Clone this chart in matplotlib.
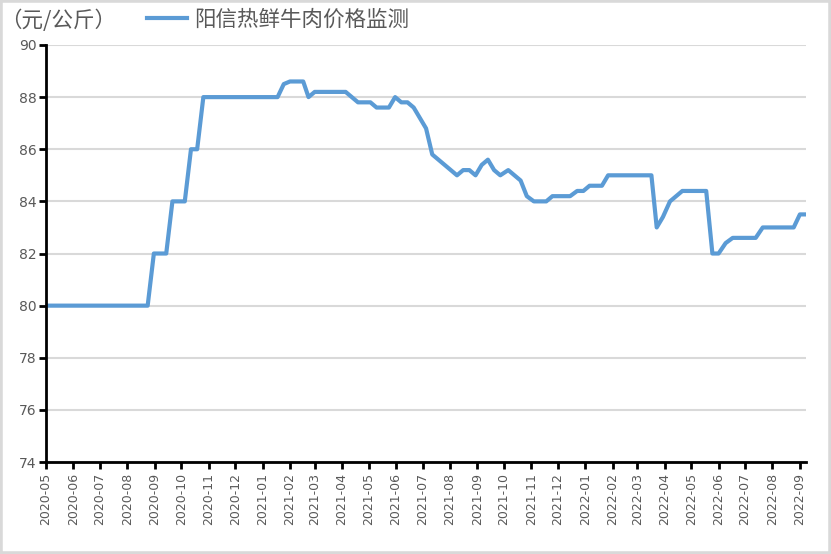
import pandas as pd
import matplotlib
matplotlib.use('Agg')
import matplotlib.pyplot as plt
import matplotlib.dates as mdates
from matplotlib.patches import Rectangle

plt.rcParams['font.family'] = ['Noto Sans CJK SC', 'DejaVu Sans']

# price points (date, yuan/kg)
dates = ['2020-05-01', '2020-08-24', '2020-08-31', '2020-09-14', '2020-09-21',
         '2020-10-05', '2020-10-12', '2020-10-19', '2020-10-26', '2021-01-18',
         '2021-01-25', '2021-02-01', '2021-02-16', '2021-02-22', '2021-03-01',
         '2021-04-05', '2021-04-19', '2021-05-03', '2021-05-10', '2021-05-24',
         '2021-05-31', '2021-06-07', '2021-06-14', '2021-06-21', '2021-07-05',
         '2021-07-12', '2021-08-09', '2021-08-16', '2021-08-23', '2021-08-30',
         '2021-09-06', '2021-09-13', '2021-09-20', '2021-09-27', '2021-10-06',
         '2021-10-20', '2021-10-27', '2021-11-04', '2021-11-18', '2021-11-25',
         '2021-12-15', '2021-12-23', '2021-12-30', '2022-01-06', '2022-01-20',
         '2022-01-27', '2022-03-17', '2022-03-23', '2022-03-30', '2022-04-07',
         '2022-04-21', '2022-05-18', '2022-05-25', '2022-06-01', '2022-06-09',
         '2022-06-17', '2022-07-13', '2022-07-21', '2022-08-25', '2022-09-01',
         '2022-09-08']
prices = [80.0, 80.0, 82.0, 82.0, 84.0,
          84.0, 86.0, 86.0, 88.0, 88.0,
          88.5, 88.6, 88.6, 88.0, 88.2,
          88.2, 87.8, 87.8, 87.6, 87.6,
          88.0, 87.8, 87.8, 87.6, 86.8,
          85.8, 85.0, 85.2, 85.2, 85.0,
          85.4, 85.6, 85.2, 85.0, 85.2,
          84.8, 84.2, 84.0, 84.0, 84.2,
          84.2, 84.4, 84.4, 84.6, 84.6,
          85.0, 85.0, 83.0, 83.4, 84.0,
          84.4, 84.4, 82.0, 82.0, 82.4,
          82.6, 82.6, 83.0, 83.0, 83.5,
          83.5]
series_name = '阳信热鲜牛肉价格监测'
unit_label = '（元/公斤）'
y_ticks = [74, 76, 78, 80, 82, 84, 86, 88, 90]

blue = '#5B9BD5'
gray_text = '#595959'

fig = plt.figure(figsize=(8.31, 5.54), dpi=100)
ax = fig.add_axes([0.0554, 0.166, 0.9146, 0.7528])

x = pd.to_datetime(dates)
ax.plot(x, prices, color=blue, lw=3, solid_joinstyle='round', label=series_name)

ax.set_ylim(74, 90)
ax.set_yticks(y_ticks)
ax.set_xlim(pd.Timestamp('2020-05-01'), pd.Timestamp('2022-09-08'))
ax.xaxis.set_major_locator(mdates.MonthLocator())
ax.xaxis.set_major_formatter(mdates.DateFormatter('%Y-%m'))

ax.grid(axis='y', color='#d9d9d9', lw=1.5)
ax.set_axisbelow(True)
for s in ['top', 'right']:
    ax.spines[s].set_visible(False)
for s in ['left', 'bottom']:
    ax.spines[s].set_linewidth(2)
    ax.spines[s].set_color('black')

ax.tick_params(axis='both', direction='out', length=5, width=2, color='black',
               labelcolor=gray_text)
ax.tick_params(axis='y', labelsize=10, pad=2)
ax.tick_params(axis='x', labelsize=9, labelrotation=90, pad=3)
for lab in ax.get_yticklabels() + ax.get_xticklabels():
    lab.set_family('DejaVu Sans')

leg = ax.legend(loc='lower left', bbox_to_anchor=(0.115, 1.0), frameon=False,
                prop={'size': 15.5, 'weight': 'light'}, handlelength=1.85,
                handletextpad=0.3, borderaxespad=0.25, labelcolor=gray_text)
fig.text(0.0, 0.963, unit_label, fontsize=15.5, fontweight='light',
         color=gray_text, va='center')

fig.patches.append(Rectangle((0, 0), 1, 1, transform=fig.transFigure, fill=False,
                             edgecolor='#d9d9d9', lw=4))

fig.savefig('out.png', dpi=100)
